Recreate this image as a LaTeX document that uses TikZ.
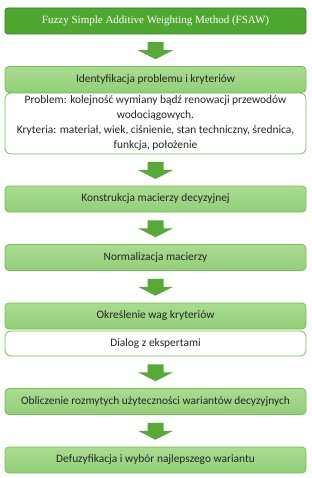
\documentclass[tikz,border=0pt]{standalone}
\usepackage{fontspec}
\setmainfont{Carlito}
\newfontfamily\titlefont{Liberation Serif}
\definecolor{dkgreen}{HTML}{4EA72E}
\definecolor{dkborder}{HTML}{3B7D23}
\definecolor{ltop}{HTML}{AADB92}
\definecolor{lbot}{HTML}{92CF78}
\definecolor{lborder}{HTML}{72C150}
\definecolor{arrowgreen}{HTML}{58A93A}
\definecolor{txt}{HTML}{262626}
\begin{document}
\begin{tikzpicture}[x=1pt,y=-1pt,
  titlebox/.style={draw=dkborder,line width=0.8pt,fill=dkgreen,rounded corners=3pt,
    minimum width=301pt,minimum height=26pt,inner sep=0pt,text=white,
    font=\titlefont\fontsize{11}{13}\selectfont},
  stepbox/.style={draw=lborder,line width=0.8pt,top color=ltop,bottom color=lbot,
    rounded corners=4pt,minimum width=301pt,minimum height=26pt,inner sep=0pt,
    text=txt,font=\fontsize{11.4}{13}\selectfont},
  notebox/.style={draw=lborder,line width=0.8pt,fill=white,rounded corners=6pt,
    minimum width=301pt,inner sep=0pt,text=txt,align=center,
    font=\fontsize{11.4}{15}\selectfont}
]
\useasboundingbox (0,0) rectangle (311,478);
\node[titlebox] (t) at (155.5,21) {Fuzzy Simple Additive Weighting Method (FSAW)};
\node[stepbox] (s1) at (155.5,79.5) {Identyfikacja problemu i kryteriów};
\node[notebox,minimum height=61pt] (n1) at (155.5,123.5) {Problem: kolejność wymiany bądź renowacji przewodów\\wodociągowych.\\Kryteria: materiał, wiek, ciśnienie, stan techniczny, średnica,\\funkcja, położenie};
\node[stepbox] (s2) at (155.5,199) {Konstrukcja macierzy decyzyjnej};
\node[stepbox] (s3) at (155.5,257.5) {Normalizacja macierzy};
\node[stepbox] (s4) at (155.5,316) {Określenie wag kryteriów};
\node[notebox,minimum height=25pt] (n2) at (155.5,343.5) {Dialog z ekspertami};
\node[stepbox] (s5) at (155.5,401.5) {Obliczenie rozmytych użyteczności wariantów decyzyjnych};
\node[stepbox] (s6) at (155.5,460) {Defuzyfikacja i wybór najlepszego wariantu};
% block arrows between boxes
\foreach \a/\b in {t/s1,n1/s2,s2/s3,s3/s4,n2/s5,s5/s6}{
  \path (\a.south) -- (\b.north) coordinate[pos=0.5] (m\a);
  \fill[arrowgreen] ([xshift=-8pt,yshift=8pt]m\a) -- ([xshift=8pt,yshift=8pt]m\a)
    -- ([xshift=8pt,yshift=0pt]m\a) -- ([xshift=17.5pt,yshift=0pt]m\a)
    -- ([yshift=-9pt]m\a) -- ([xshift=-17.5pt,yshift=0pt]m\a)
    -- ([xshift=-8pt,yshift=0pt]m\a) -- cycle;
}
\end{tikzpicture}
\end{document}
